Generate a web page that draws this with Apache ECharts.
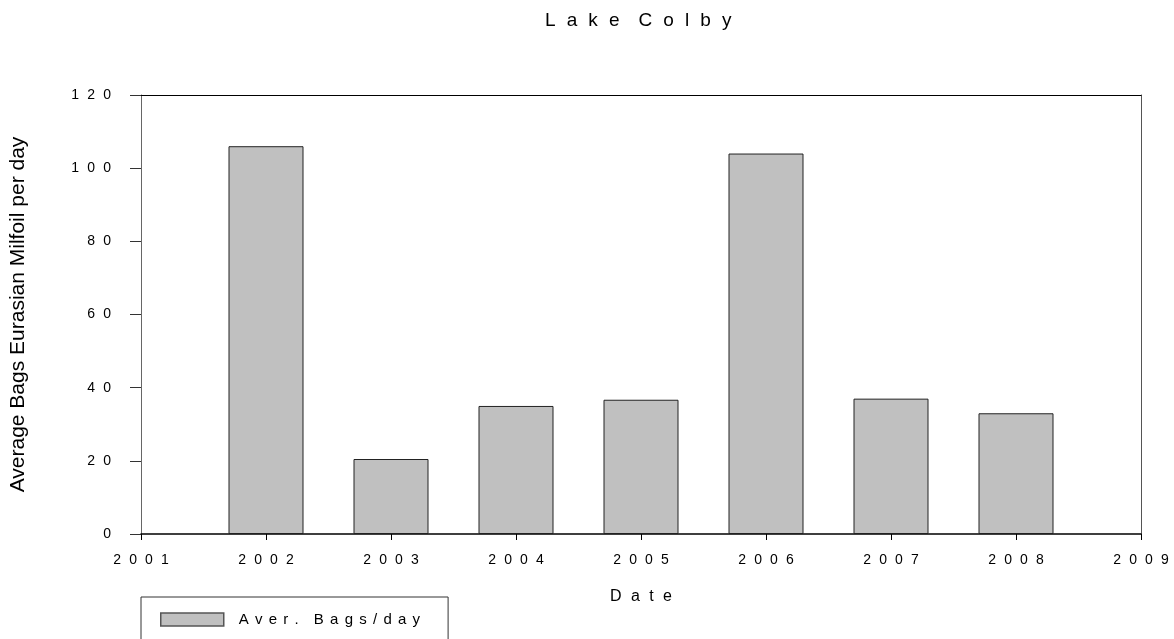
<!DOCTYPE html>
<html>
<head>
<meta charset="utf-8">
<script src="https://cdn.jsdelivr.net/npm/echarts@6/dist/echarts.min.js"></script>
<style>html,body{margin:0;padding:0;background:#fff;}#c{width:1174px;height:639px;}</style>
</head>
<body>
<div id="c"></div>
<script>
const titleText = 'Lake Colby';
const xAxisTitle = 'Date';
const yAxisTitle = 'Average Bags Eurasian Milfoil per day';
const seriesName = 'Aver. Bags/day';
const years = [2002, 2003, 2004, 2005, 2006, 2007, 2008];
const bagsPerDay = [106, 20.5, 35, 36.7, 104, 37, 33];
const xTicks = [2001, 2002, 2003, 2004, 2005, 2006, 2007, 2008, 2009];
const yTicks = [0, 20, 40, 60, 80, 100, 120];

function spaced(s, gap, wordGap) {
  return s.split(' ').map(w => w.split('').join(gap)).join(wordGap);
}
const G = '\u2002\u200A';
const WG = '\u2002\u2002';

const chart = echarts.init(document.getElementById('c'), null, {renderer: 'canvas'});
chart.setOption({
  animation: false,
  backgroundColor: '#fff',
  textStyle: {fontFamily: 'Liberation Sans, Arial, sans-serif', color: '#000'},
  title: {
    text: spaced(titleText, G, WG),
    left: 545, top: 11, padding: 0,
    textStyle: {fontSize: 19, fontWeight: 'normal', color: '#000', fontFamily: 'Liberation Sans, Arial, sans-serif'}
  },
  grid: {left: 141, right: 33, top: 95, bottom: 105, containLabel: false},
  legend: {
    left: 141, top: 597,
    orient: 'horizontal',
    padding: [15, 28, 40, 19],
    borderColor: '#333', borderWidth: 1,
    itemWidth: 63, itemHeight: 13,
    icon: 'rect',
    itemStyle: {borderColor: '#555', borderWidth: 1.5},
    formatter: n => spaced(n, '\u2004\u200A', '\u2002\u2002'),
    textStyle: {fontSize: 15, color: '#000', padding: [0, 0, 0, 10], fontFamily: 'Liberation Sans, Arial, sans-serif'},
    data: [seriesName]
  },
  xAxis: [{
    type: 'value', min: xTicks[0], max: xTicks[xTicks.length - 1], interval: 1,
    name: spaced(xAxisTitle, G, WG), nameLocation: 'middle', nameGap: 55,
    nameTextStyle: {fontSize: 16, color: '#000'},
    axisLine: {show: true, onZero: false, lineStyle: {color: '#000', width: 1.5}},
    axisTick: {show: true, inside: false, length: 6, lineStyle: {color: '#000'}},
    axisLabel: {show: true, margin: 19, fontSize: 14, color: '#000', formatter: v => spaced(String(v), G, WG)},
    splitLine: {show: false}
  }, {
    type: 'value', position: 'top', min: xTicks[0], max: xTicks[xTicks.length - 1],
    axisLine: {show: true, onZero: false, lineStyle: {color: '#000', width: 1}},
    axisTick: {show: false}, axisLabel: {show: false}, splitLine: {show: false}
  }],
  yAxis: [{
    type: 'value', min: yTicks[0], max: yTicks[yTicks.length - 1], interval: 20,
    name: yAxisTitle, nameLocation: 'middle', nameGap: 112,
    nameTextStyle: {fontSize: 21, color: '#000'},
    axisLine: {show: true, onZero: false, lineStyle: {color: '#666', width: 1}},
    axisTick: {show: true, inside: false, length: 11, lineStyle: {color: '#333'}},
    axisLabel: {show: true, margin: 30, fontSize: 14, color: '#000', formatter: v => spaced(String(v), G, WG)},
    splitLine: {show: false}
  }, {
    type: 'value', position: 'right', min: yTicks[0], max: yTicks[yTicks.length - 1],
    axisLine: {show: true, onZero: false, lineStyle: {color: '#555', width: 1}},
    axisTick: {show: false}, axisLabel: {show: false}, splitLine: {show: false}
  }],
  series: [{
    name: seriesName,
    type: 'bar',
    xAxisIndex: 0, yAxisIndex: 0,
    barWidth: 75,
    itemStyle: {color: '#c0c0c0', borderColor: '#222', borderWidth: 1},
    data: years.map((y, i) => [y, bagsPerDay[i]])
  }]
});
</script>
</body>
</html>
